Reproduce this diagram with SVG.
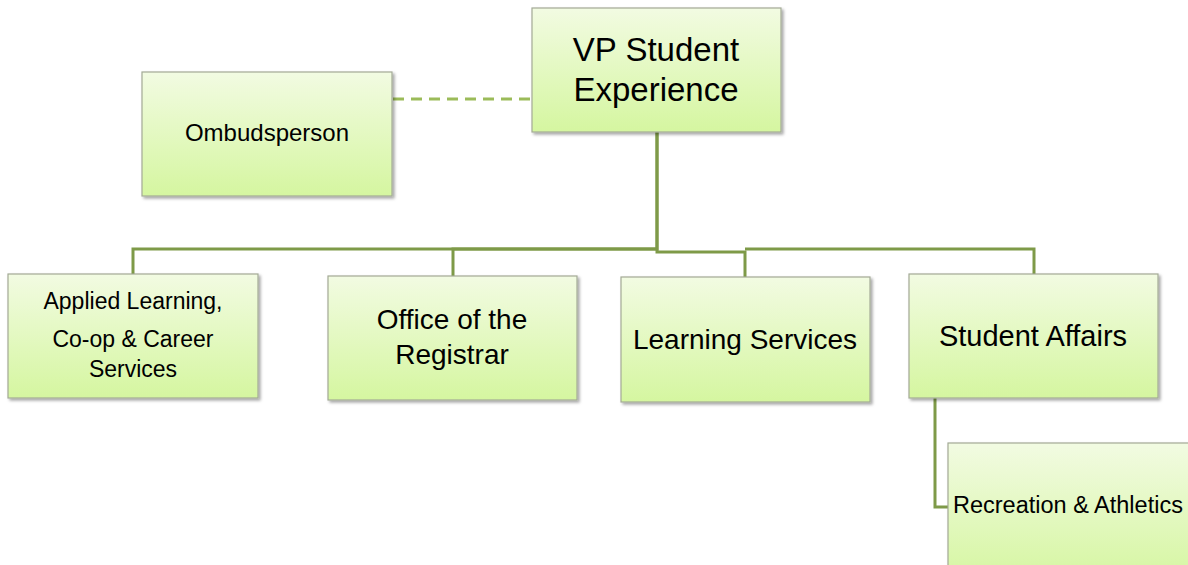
<svg xmlns="http://www.w3.org/2000/svg" width="1188" height="565" viewBox="0 0 1188 565">
<defs>
<linearGradient id="g" x1="0" y1="0" x2="0" y2="1">
<stop offset="0" stop-color="#f2fbe2"/>
<stop offset="1" stop-color="#d5f6a0"/>
</linearGradient>
<filter id="sh" x="-10%" y="-10%" width="125%" height="125%">
<feDropShadow dx="2" dy="2" stdDeviation="1.5" flood-color="#000" flood-opacity="0.35"/>
</filter>
</defs>
<style>
.box{fill:url(#g);stroke:#a3aa96;stroke-width:1.2;filter:url(#sh)}
.t{font-family:"Liberation Sans",Arial,sans-serif;fill:#000;text-anchor:middle}
.c{fill:none;stroke:#7e9a48;stroke-width:3}
.d{fill:none;stroke:#9bbb59;stroke-width:3;stroke-dasharray:11 7}
</style>
<rect width="1188" height="565" fill="#fff"/>
<g id="connectors">
<path class="d" d="M393 99 H531"/>
<path class="c" d="M657 132 V249 H133 V274"/>
<path class="c" d="M657 249 H453 V276"/>
<path class="c" d="M657 132 V252 H745 V277"/>
<path class="c" d="M745 249 H1034 V274"/>
<path class="c" d="M935 398 V507 H948"/>
</g>
<g id="vp">
<rect class="box" x="532" y="8" width="249" height="124"/>
<text class="t" x="656" y="61" font-size="33">VP Student</text>
<text class="t" x="656" y="101" font-size="33">Experience</text>
</g>
<g id="ombudsperson">
<rect class="box" x="142" y="72" width="250" height="124"/>
<text class="t" x="267" y="141" font-size="24">Ombudsperson</text>
</g>
<g id="applied">
<rect class="box" x="8" y="274" width="250" height="124"/>
<text class="t" x="133" y="309" font-size="23">Applied Learning,</text>
<text class="t" x="133" y="347" font-size="23">Co-op &amp; Career</text>
<text class="t" x="133" y="377" font-size="23">Services</text>
</g>
<g id="registrar">
<rect class="box" x="328" y="276" width="249" height="124"/>
<text class="t" x="452" y="329" font-size="28">Office of the</text>
<text class="t" x="452" y="364" font-size="28">Registrar</text>
</g>
<g id="learning">
<rect class="box" x="621" y="277" width="249" height="125"/>
<text class="t" x="745" y="349" font-size="28">Learning Services</text>
</g>
<g id="studentaffairs">
<rect class="box" x="909" y="274" width="249" height="124"/>
<text class="t" x="1033" y="346" font-size="29">Student Affairs</text>
</g>
<g id="recreation">
<rect class="box" x="948" y="443" width="262" height="140"/>
<text class="t" x="953" y="513" font-size="23.5" style="text-anchor:start">Recreation &amp; Athletics</text>
</g>
</svg>
